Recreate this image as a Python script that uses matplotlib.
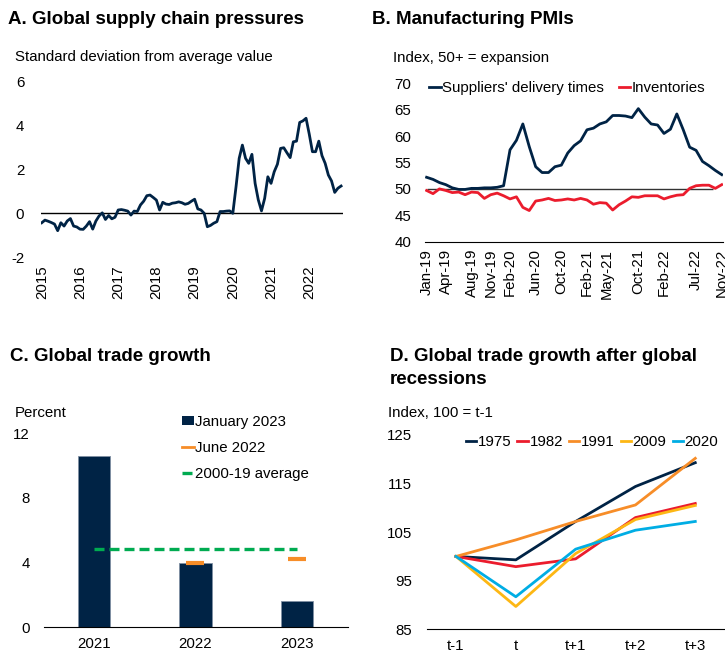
import numpy as np
import matplotlib
matplotlib.use('Agg')
import matplotlib.pyplot as plt
from matplotlib.patches import Patch
from matplotlib.lines import Line2D

plt.rcParams['font.family'] = ['Liberation Sans', 'DejaVu Sans']
plt.rcParams['font.size'] = 10.8
plt.rcParams['axes.unicode_minus'] = False

NAVY = '#002345'
RED = '#EB1C2D'
ORANGE = '#F78D28'
GOLD = '#FDB714'
CYAN = '#00ADE4'
GREEN = '#00AB51'

# A. GSCPI, monthly Jan-2015 .. Nov-2022
pressure = [
    -0.43, -0.31, -0.36, -0.42, -0.49, -0.79, -0.43, -0.58, -0.35, -0.24,
    -0.58, -0.62, -0.72, -0.73, -0.58, -0.38, -0.72, -0.35, -0.12, 0.02,
    -0.28, -0.10, -0.25, -0.18, 0.15, 0.17, 0.14, 0.10, -0.08, 0.10,
    0.08, 0.38, 0.55, 0.80, 0.83, 0.72, 0.60, 0.15, 0.50, 0.42,
    0.40, 0.46, 0.48, 0.52, 0.48, 0.41, 0.45, 0.55, 0.64, 0.20,
    0.15, 0.00, -0.61, -0.55, -0.45, -0.38, 0.08, 0.08, 0.10, 0.11,
    0.00, 1.20, 2.50, 3.10, 2.50, 2.27, 2.68, 1.36, 0.61, 0.11,
    0.68, 1.66, 1.36, 1.89, 2.23, 2.95, 2.98, 2.75, 2.53, 3.25,
    3.28, 4.13, 4.20, 4.32, 3.60, 2.80, 2.80, 3.28, 2.62, 2.27,
    1.74, 1.47, 0.95, 1.14, 1.24]
years_a = list(range(2015, 2023))

# B. PMIs, monthly Jan-2019 .. Nov-2022
delivery_times = [
    52.2, 51.8, 51.2, 50.8, 50.2, 49.9, 49.9, 50.1, 50.1, 50.2,
    50.2, 50.3, 50.6, 57.4, 59.2, 62.3, 58.0, 54.2, 53.1, 53.1,
    54.2, 54.5, 56.8, 58.2, 59.1, 61.2, 61.5, 62.3, 62.7, 63.9,
    63.9, 63.8, 63.5, 65.2, 63.6, 62.3, 62.1, 60.5, 61.3, 64.2,
    61.2, 57.9, 57.3, 55.2, 54.4, 53.5, 52.7]
inventories = [
    49.7, 49.1, 50.0, 49.7, 49.3, 49.4, 48.9, 49.4, 49.3, 48.2,
    48.9, 49.2, 48.7, 48.1, 48.5, 46.5, 45.9, 47.7, 47.9, 48.2,
    47.8, 47.9, 48.1, 47.9, 48.2, 47.9, 47.1, 47.4, 47.3, 46.0,
    47.0, 47.7, 48.5, 48.4, 48.7, 48.7, 48.7, 48.1, 48.5, 48.8,
    48.9, 50.1, 50.6, 50.7, 50.7, 50.1, 50.8]
pmi_tick_months = [0, 3, 7, 10, 13, 17, 21, 25, 28, 33, 37, 42, 46]
pmi_tick_labels = ['Jan-19', 'Apr-19', 'Aug-19', 'Nov-19', 'Feb-20', 'Jun-20',
                   'Oct-20', 'Feb-21', 'May-21', 'Oct-21', 'Feb-22', 'Jul-22', 'Nov-22']

# C. Global trade growth
trade_years = ['2021', '2022', '2023']
jan_2023 = [10.6, 4.0, 1.6]
jun_2022_years = [1, 2]
jun_2022 = [4.0, 4.2]
avg_2000_19 = 4.85

# D. Trade after global recessions
periods = ['t-1', 't', 't+1', 't+2', 't+3']
recessions = {
    '1975': [100.0, 99.3, 107.2, 114.4, 119.3],
    '1982': [100.0, 97.9, 99.5, 108.0, 110.9],
    '1991': [100.0, 103.4, 107.2, 110.6, 120.2],
    '2009': [100.0, 89.7, 100.6, 107.6, 110.5],
    '2020': [100.0, 91.7, 101.5, 105.4, 107.2],
}
recession_colors = [NAVY, RED, ORANGE, GOLD, CYAN]

W, H = 725, 654


def px_rect(x0, x1, y_top, y_bot):
    return [x0 / W, 1 - y_bot / H, (x1 - x0) / W, (y_bot - y_top) / H]


def clean(ax):
    for s in ax.spines.values():
        s.set_visible(False)
    ax.tick_params(length=0)


def panel_a(fig):
    ax = fig.add_axes(px_rect(41, 343, 81.3, 257.3))
    clean(ax)
    x = 2015 + np.arange(len(pressure)) / 12
    ax.axhline(0, color='black', lw=1)
    ax.plot(x, pressure, color=NAVY, lw=2)
    ax.set_xlim(2015 - 0.02, x[-1] + 0.05)
    ax.set_ylim(-2, 6)
    ax.set_yticks([-2, 0, 2, 4, 6])
    ax.set_xticks(years_a)
    ax.set_xticklabels([str(y) for y in years_a], rotation=90)
    ax.tick_params(axis='y', pad=12)
    ax.tick_params(axis='x', pad=6)
    fig.text(8 / W, 1 - 20 / H, 'A. Global supply chain pressures', fontsize=13.5,
             fontweight='bold', va='center')
    fig.text(15 / W, 1 - 57 / H, 'Standard deviation from average value', va='center')


def panel_b(fig):
    ax = fig.add_axes(px_rect(425, 722.7, 83.3, 241.7))
    clean(ax)
    ax.spines['bottom'].set_visible(True)
    ax.spines['bottom'].set_color('black')
    m = np.arange(len(delivery_times))
    ax.hlines(50, 0, 44.7, color='#333333', lw=1)
    ax.plot(m, delivery_times, color=NAVY, lw=2, label="Suppliers' delivery times")
    ax.plot(m, inventories, color=RED, lw=2, label='Inventories')
    ax.set_xlim(-0.25, 46.15)
    ax.set_ylim(40, 70)
    ax.set_yticks(range(40, 71, 5))
    ax.set_xticks(pmi_tick_months)
    ax.set_xticklabels(pmi_tick_labels, rotation=90)
    ax.tick_params(axis='y', pad=10)
    ax.tick_params(axis='x', pad=5)
    ax.legend(loc='center left', bbox_to_anchor=(0.015, 0.968), frameon=False, ncol=2,
              handlelength=0.75, handletextpad=0.1, columnspacing=1.0, borderpad=0,
              borderaxespad=0)
    fig.text(372 / W, 1 - 20 / H, 'B. Manufacturing PMIs', fontsize=13.5,
             fontweight='bold', va='center')
    fig.text(393 / W, 1 - 58 / H, 'Index, 50+ = expansion', va='center')


def panel_c(fig):
    ax = fig.add_axes(px_rect(44, 348, 433.3, 627.3))
    clean(ax)
    ax.spines['bottom'].set_visible(True)
    ax.spines['bottom'].set_color('black')
    xs = np.arange(len(trade_years))
    ax.bar(xs, jan_2023, width=0.315, color=NAVY, edgecolor='#7f8fa3', lw=0.6)
    ax.plot(xs, [avg_2000_19] * len(xs), color=GREEN, lw=2.4, dashes=(3, 1.5))
    ax.plot(jun_2022_years, jun_2022, ls='none', marker='_', ms=12.5, mew=3, color=ORANGE)
    ax.set_xlim(-0.49, 2.5)
    ax.set_ylim(0, 12)
    ax.set_yticks([0, 4, 8, 12])
    ax.set_xticks(xs)
    ax.set_xticklabels(trade_years)
    ax.tick_params(axis='y', pad=10)
    ax.tick_params(axis='x', pad=7)
    handles = [Patch(facecolor=NAVY),
               Line2D([], [], color=ORANGE, lw=2),
               Line2D([], [], color=GREEN, lw=2.4, dashes=(3, 1.5))]
    ax.legend(handles, ['January 2023', 'June 2022', '2000-19 average'],
              loc='upper left', bbox_to_anchor=(0.455, 1.095), frameon=False,
              handlelength=0.8, handleheight=0.6, handletextpad=0.05,
              labelspacing=0.8, borderpad=0, borderaxespad=0)
    fig.text(10 / W, 1 - 357 / H, 'C. Global trade growth', fontsize=13.5,
             fontweight='bold', va='center')
    fig.text(15 / W, 1 - 412.7 / H, 'Percent', va='center')


def panel_d(fig):
    ax = fig.add_axes(px_rect(427.3, 724, 435, 629.3))
    clean(ax)
    ax.spines['bottom'].set_visible(True)
    ax.spines['bottom'].set_color('black')
    xs = np.arange(len(periods))
    for (name, vals), col in zip(recessions.items(), recession_colors):
        ax.plot(xs, vals, color=col, lw=2, label=name)
    ax.set_xlim(-0.48, 4.48)
    ax.set_ylim(85, 125)
    ax.set_yticks([85, 95, 105, 115, 125])
    ax.set_xticks(xs)
    ax.set_xticklabels(periods)
    ax.tick_params(axis='y', pad=11)
    ax.tick_params(axis='x', pad=7)
    ax.legend(loc='center left', bbox_to_anchor=(0.13, 0.965), frameon=False, ncol=5,
              handlelength=0.7, handletextpad=0.1, columnspacing=0.4, borderpad=0,
              borderaxespad=0)
    fig.text(390 / W, 1 - 368 / H, 'D. Global trade growth after global\nrecessions',
             fontsize=13.5, fontweight='bold', va='center', linespacing=1.4)
    fig.text(388 / W, 1 - 412.7 / H, 'Index, 100 = t-1', va='center')


def main():
    fig = plt.figure(figsize=(W / 100, H / 100), dpi=100)
    panel_a(fig)
    panel_b(fig)
    panel_c(fig)
    panel_d(fig)
    fig.savefig('out.png', dpi=100)
    plt.close(fig)


if __name__ == '__main__':
    main()
